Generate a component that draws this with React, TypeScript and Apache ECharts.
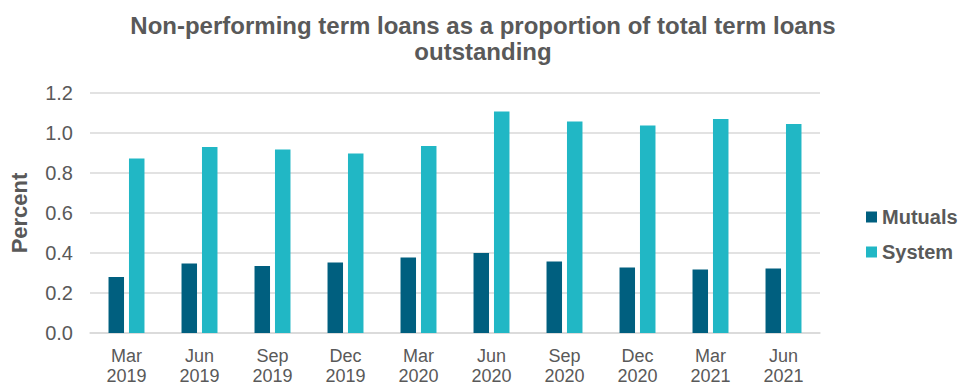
import React, { useEffect, useRef } from "react";
import * as echarts from "echarts";

const categories = ["Mar\n2019", "Jun\n2019", "Sep\n2019", "Dec\n2019", "Mar\n2020", "Jun\n2020", "Sep\n2020", "Dec\n2020", "Mar\n2021", "Jun\n2021"];
const mutuals = [0.28, 0.347, 0.335, 0.352, 0.378, 0.4, 0.358, 0.327, 0.318, 0.322];
const system = [0.872, 0.93, 0.918, 0.897, 0.935, 1.108, 1.058, 1.038, 1.07, 1.045];

export default function App() {
  const ref = useRef<HTMLDivElement>(null);
  useEffect(() => {
    const chart = echarts.init(ref.current!, null, { renderer: "svg" });
    const font = "Liberation Sans, Arial, sans-serif";
    chart.setOption({
      animation: false,
      title: {
        text: "Non-performing term loans as a proportion of total term loans\noutstanding",
        left: 478,
        textAlign: "center",
        top: 7,
        textStyle: { fontFamily: font, fontSize: 24, fontWeight: "bold", color: "#595959", lineHeight: 26 },
      },
      legend: {
        orient: "vertical",
        left: 861,
        top: 202,
        itemWidth: 11,
        itemHeight: 11,
        itemGap: 15,
        icon: "rect",
        textStyle: { fontFamily: font, fontSize: 20, fontWeight: "bold", color: "#595959" },
      },
      grid: { left: 88, right: 138, top: 93, bottom: 57 },
      xAxis: {
        type: "category",
        data: categories,
        axisTick: { show: false },
        axisLine: { lineStyle: { color: "#d9d9d9", width: 1.5 } },
        axisLabel: { fontFamily: font, fontSize: 18, color: "#595959", lineHeight: 20, margin: 13 },
      },
      yAxis: {
        type: "value",
        min: 0,
        max: 1.2,
        interval: 0.2,
        name: "Percent",
        nameLocation: "middle",
        nameGap: 60,
        nameTextStyle: { fontFamily: font, fontSize: 22, fontWeight: "bold", color: "#595959" },
        axisLabel: { fontFamily: font, fontSize: 20, color: "#595959", margin: 17, formatter: (v: number) => v.toFixed(1) },
        splitLine: { lineStyle: { color: "#d9d9d9", width: 1.5 } },
      },
      series: [
        { name: "Mutuals", type: "bar", data: mutuals, barWidth: 15.5, barGap: "32%", itemStyle: { color: "#005f7f" } },
        { name: "System", type: "bar", data: system, barWidth: 15.5, itemStyle: { color: "#21b7c5" } },
      ],
    });
    return () => chart.dispose();
  }, []);
  return <div ref={ref} style={{ width: 958, height: 390, position: "absolute", left: 0, top: 0 }} />;
}
